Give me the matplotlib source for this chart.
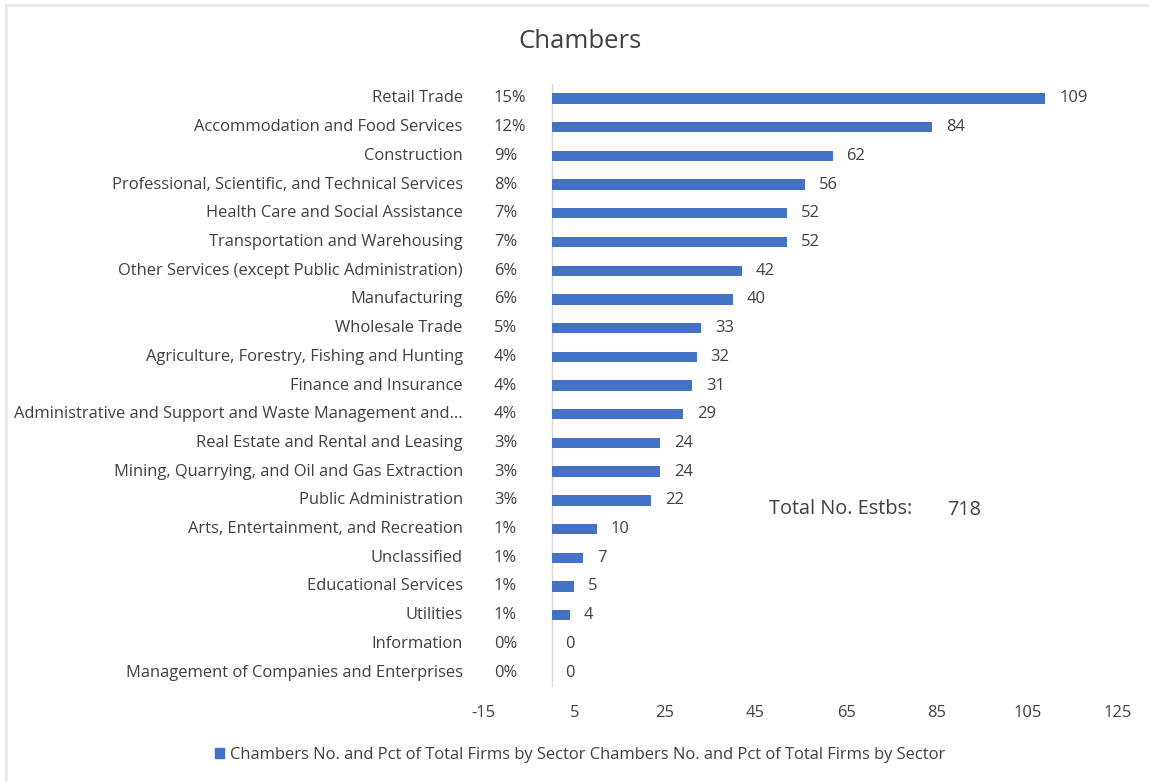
import matplotlib.pyplot as plt
import matplotlib.patches as mpatches
from matplotlib.lines import Line2D
import numpy as np

plt.rcParams['font.family'] = ['Open Sans', 'DejaVu Sans']
plt.rcParams['axes.unicode_minus'] = False

# Data, top to bottom as in the chart
sectors = [
    'Retail Trade',
    'Accommodation and Food Services',
    'Construction',
    'Professional, Scientific, and Technical Services',
    'Health Care and Social Assistance',
    'Transportation and Warehousing',
    'Other Services (except Public Administration)',
    'Manufacturing',
    'Wholesale Trade',
    'Agriculture, Forestry, Fishing and Hunting',
    'Finance and Insurance',
    'Administrative and Support and Waste Management and...',
    'Real Estate and Rental and Leasing',
    'Mining, Quarrying, and Oil and Gas Extraction',
    'Public Administration',
    'Arts, Entertainment, and Recreation',
    'Unclassified',
    'Educational Services',
    'Utilities',
    'Information',
    'Management of Companies and Enterprises',
]
pcts = ['15%', '12%', '9%', '8%', '7%', '7%', '6%', '6%', '5%', '4%', '4%',
        '4%', '3%', '3%', '3%', '1%', '1%', '1%', '1%', '0%', '0%']
counts = [109, 84, 62, 56, 52, 52, 42, 40, 33, 32, 31,
          29, 24, 24, 22, 10, 7, 5, 4, 0, 0]
x_ticks = [-15, 5, 25, 45, 65, 85, 105, 125]
total_estbs = 718

BLUE = '#4472C4'
TXT = '#404040'
FS = 11.9

fig = plt.figure(figsize=(11.49, 7.82), dpi=100)
ax = fig.add_axes([0.421, 0.1215, 0.552, 0.771])

y = np.arange(len(sectors))
ax.barh(y, counts, height=0.36, color=BLUE, zorder=2)
ax.set_ylim(len(sectors) - 0.5, -0.5)
ax.set_xlim(-15, 125)
ax.set_xticks(x_ticks)
ax.set_yticks([])
ax.tick_params(axis='x', length=0, labelsize=FS, colors=TXT, pad=13)

for s in ['top', 'right', 'bottom', 'left']:
    ax.spines[s].set_visible(False)
ax.axvline(0, color='#D9D9D9', linewidth=1, zorder=1)

# category labels (two levels, like Excel)
ytr = ax.get_yaxis_transform()
for i, (name, p, c) in enumerate(zip(sectors, pcts, counts)):
    ax.text(-0.033, i, name, transform=ytr, ha='right', va='center',
            fontsize=FS, color=TXT)
    ax.text(0.016, i, p, transform=ytr, ha='left', va='center',
            fontsize=FS, color=TXT)
    ax.annotate(str(c), (c, i), xytext=(10, 0), textcoords='offset points',
                ha='left', va='center', fontsize=FS, color=TXT)

ax.text(0.4495, 0.296, 'Total No. Estbs:', transform=ax.transAxes,
        ha='left', va='center', fontsize=14.3, color=TXT)
ax.text(0.730, 0.293, str(total_estbs), transform=ax.transAxes,
        ha='left', va='center', fontsize=14.3, color=TXT)

fig.text(0.505, 0.947, 'Chambers', ha='center', va='center',
         fontsize=18.5, color=TXT)

handle = mpatches.Patch(color=BLUE)
fig.legend([handle],
           ['Chambers No. and Pct of Total Firms by Sector Chambers No. and Pct of Total Firms by Sector'],
           loc='center', bbox_to_anchor=(0.505, 0.035), frameon=False,
           fontsize=FS, handlelength=0.55, handleheight=0.55,
           handletextpad=0.4, labelcolor=TXT)

# faint frame edges, top and left only
fig.add_artist(Line2D([0.005, 1.0], [0.993, 0.993], transform=fig.transFigure,
                      color='#E8E8E8', linewidth=2))
fig.add_artist(Line2D([0.005, 0.005], [0.0, 0.993], transform=fig.transFigure,
                      color='#E8E8E8', linewidth=2))

fig.savefig('out.png', dpi=100)
